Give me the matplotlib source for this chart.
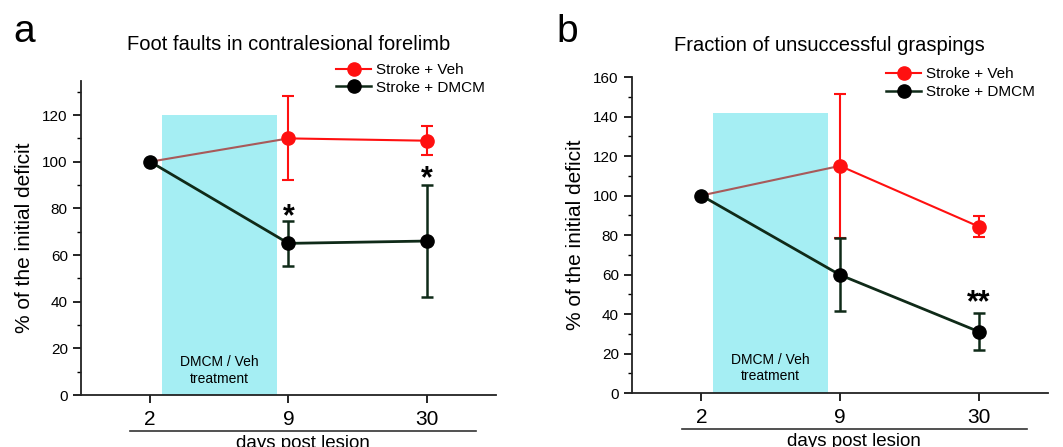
import numpy as np
import matplotlib
matplotlib.use("Agg")
import matplotlib.pyplot as plt
import matplotlib.transforms as mtransforms

plt.rcParams['font.family'] = ['Liberation Sans', 'DejaVu Sans']

days = ["2", "9", "30"]

# panel a: foot faults
a_veh = [100, 110, 109]
a_veh_err = [0, 18, 6.3]
a_dmcm = [100, 65, 66]
a_dmcm_err = [0, 9.5, 24]
a_stars = [(1, 76, "*"), (2, 92.5, "*")]

# panel b: unsuccessful graspings
b_veh = [100, 115, 84.3]
b_veh_err = [0, 36.5, 5.5]
b_dmcm = [100, 59.8, 31.1]
b_dmcm_err = [0, 18.5, 9.3]
b_stars = [(2, 45.5, "**")]

RED = "#ff1010"
BROWN = "#a85a5a"
DARK = "#0f2a18"
CYAN = "#a5eef3"


def panel(ax, veh, veh_err, dmcm, dmcm_err, stars, ylim, yticks, shade_top,
          title, title_pad, leg_xy, line_x):
    x = np.arange(len(days))
    ax.axvspan(0.085, 0.915, ymin=0, ymax=shade_top / ylim[1], color=CYAN, lw=0, zorder=0)
    ax.text(0.5, 0.078, "DMCM / Veh\ntreatment", ha="center", va="center",
            transform=mtransforms.blended_transform_factory(ax.transData, ax.transAxes),
            fontsize=10, linespacing=1.2, zorder=1)
    # red line: first segment brownish
    ax.plot(x[:2], veh[:2], color=BROWN, lw=1.5, zorder=2)
    ax.plot(x[1:], veh[1:], color=RED, lw=1.5, zorder=2)
    ax.errorbar(x[1:], veh[1:], yerr=veh_err[1:], fmt="o", color=RED, ms=9.5,
                capsize=4, elinewidth=1.5, capthick=1.5, zorder=3)
    ax.plot(x, dmcm, color=DARK, lw=2, zorder=4)
    ax.errorbar(x, dmcm, yerr=dmcm_err, fmt="o", color=DARK, mfc="black", mec="black",
                ms=9.5, capsize=4, elinewidth=1.8, capthick=1.8, zorder=5)
    for sx, sy, s in stars:
        ax.text(sx, sy, s, ha="center", va="center", fontsize=22, fontweight="bold")

    ax.set_xlim(-0.5, 2.5)
    ax.set_ylim(*ylim)
    ax.set_xticks(x)
    ax.set_xticklabels(days, fontsize=15)
    ax.set_yticks(yticks)
    ax.set_yticks(np.arange(ylim[0], ylim[1] + 0.1, 10), minor=True)
    ax.tick_params(axis="y", labelsize=11, length=6, width=1.2, direction="out")
    ax.tick_params(axis="y", which="minor", length=3, width=1)
    ax.tick_params(axis="x", length=6, width=1.2, pad=5)
    for s in ["top", "right"]:
        ax.spines[s].set_visible(False)
    for s in ["left", "bottom"]:
        ax.spines[s].set_linewidth(1.3)
        ax.spines[s].set_color("#222222")
    ax.set_ylabel("% of the initial deficit", fontsize=15, labelpad=6)
    ax.set_title(title, fontsize=14.5, pad=title_pad)

    trans = mtransforms.blended_transform_factory(ax.transData, ax.transAxes)
    ax.plot(line_x, [-0.115, -0.115], color="#333333", lw=1.2, transform=trans, clip_on=False)
    ax.text(np.mean(line_x), -0.128, "days post lesion", transform=trans, ha="center",
            va="top", fontsize=13.5)

    # legend
    lx, ly = leg_xy
    h1, = ax.plot([], [], "o-", color=RED, ms=9.5, lw=1.5)
    h2, = ax.plot([], [], "o-", color=DARK, mfc="black", mec="black", ms=9.5, lw=1.8)
    ax.legend([h1, h2], ["Stroke + Veh", "Stroke + DMCM"], loc="upper left",
              bbox_to_anchor=(lx, ly), frameon=False, fontsize=11, handlelength=2.3,
              handletextpad=0.3, labelspacing=0.25, borderaxespad=0)


fig = plt.figure(figsize=(10.63, 4.47), dpi=100)
ax1 = fig.add_axes([0.0762, 0.1163, 0.3904, 0.7025])
ax2 = fig.add_axes([0.5945, 0.1208, 0.3914, 0.7069])

panel(ax1, a_veh, a_veh_err, a_dmcm, a_dmcm_err, a_stars, (0, 134.6),
      np.arange(0, 121, 20), 120, "Foot faults in contralesional forelimb", 22,
      (0.60, 1.077), [-0.145, 2.355])
panel(ax2, b_veh, b_veh_err, b_dmcm, b_dmcm_err, b_stars, (0, 160),
      np.arange(0, 161, 20), 142, "Fraction of unsuccessful graspings", 19,
      (0.596, 1.05), [-0.139, 2.345])
ax2.title.set_x(0.475)

fig.text(13 / 1063, 0.906, "a", fontsize=28, va="baseline", ha="left")
fig.text(556 / 1063, 0.906, "b", fontsize=28, va="baseline", ha="left")

fig.savefig("out.png", dpi=100)
